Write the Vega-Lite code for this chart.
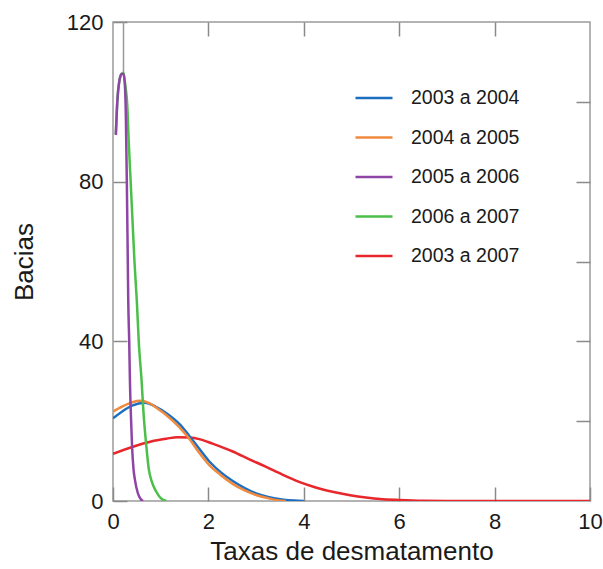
{
  "$schema": "https://vega.github.io/schema/vega-lite/v6.json",
  "width": 477,
  "height": 479,
  "autosize": {"type": "none"},
  "padding": {"left": 113, "top": 22, "right": 13, "bottom": 68},
  "background": "white",
  "config": {
    "font": "Liberation Sans",
    "view": {"stroke": "#9a9a9a", "strokeWidth": 1.5},
    "axis": {"grid": false, "domain": false, "tickColor": "#8a8a8a", "tickWidth": 1.5, "labelColor": "#1a1a1a", "titleColor": "#1a1a1a", "labelFont": "Liberation Sans", "titleFont": "Liberation Sans", "titleFontWeight": "normal"}
  },
  "datasets": {
    "curves": [
      {"periodo": "2003 a 2007", "taxa": 0, "bacias": 11.8},
      {"periodo": "2003 a 2007", "taxa": 0.42, "bacias": 13.6},
      {"periodo": "2003 a 2007", "taxa": 0.8, "bacias": 14.9},
      {"periodo": "2003 a 2007", "taxa": 1.12, "bacias": 15.6},
      {"periodo": "2003 a 2007", "taxa": 1.35, "bacias": 16.0},
      {"periodo": "2003 a 2007", "taxa": 1.6, "bacias": 15.9},
      {"periodo": "2003 a 2007", "taxa": 1.81, "bacias": 15.5},
      {"periodo": "2003 a 2007", "taxa": 2.1, "bacias": 14.3},
      {"periodo": "2003 a 2007", "taxa": 2.51, "bacias": 12.4},
      {"periodo": "2003 a 2007", "taxa": 2.85, "bacias": 10.5},
      {"periodo": "2003 a 2007", "taxa": 3.2, "bacias": 8.6},
      {"periodo": "2003 a 2007", "taxa": 3.55, "bacias": 6.6},
      {"periodo": "2003 a 2007", "taxa": 3.9, "bacias": 4.8},
      {"periodo": "2003 a 2007", "taxa": 4.25, "bacias": 3.4},
      {"periodo": "2003 a 2007", "taxa": 4.6, "bacias": 2.3},
      {"periodo": "2003 a 2007", "taxa": 5.0, "bacias": 1.4},
      {"periodo": "2003 a 2007", "taxa": 5.3, "bacias": 0.9},
      {"periodo": "2003 a 2007", "taxa": 5.6, "bacias": 0.5},
      {"periodo": "2003 a 2007", "taxa": 6.0, "bacias": 0.25},
      {"periodo": "2003 a 2007", "taxa": 6.5, "bacias": 0.05},
      {"periodo": "2003 a 2007", "taxa": 7.0, "bacias": 0},
      {"periodo": "2003 a 2007", "taxa": 8.0, "bacias": 0},
      {"periodo": "2003 a 2007", "taxa": 10.0, "bacias": 0},
      {"periodo": "2003 a 2004", "taxa": 0, "bacias": 20.7},
      {"periodo": "2003 a 2004", "taxa": 0.2, "bacias": 22.5},
      {"periodo": "2003 a 2004", "taxa": 0.4, "bacias": 23.9},
      {"periodo": "2003 a 2004", "taxa": 0.67, "bacias": 24.6},
      {"periodo": "2003 a 2004", "taxa": 0.9, "bacias": 23.6},
      {"periodo": "2003 a 2004", "taxa": 1.12, "bacias": 22.0},
      {"periodo": "2003 a 2004", "taxa": 1.4, "bacias": 19.2},
      {"periodo": "2003 a 2004", "taxa": 1.6, "bacias": 16.3},
      {"periodo": "2003 a 2004", "taxa": 1.8, "bacias": 13.2},
      {"periodo": "2003 a 2004", "taxa": 2.02, "bacias": 9.9},
      {"periodo": "2003 a 2004", "taxa": 2.25, "bacias": 7.3},
      {"periodo": "2003 a 2004", "taxa": 2.51, "bacias": 5.0},
      {"periodo": "2003 a 2004", "taxa": 2.75, "bacias": 3.3},
      {"periodo": "2003 a 2004", "taxa": 3.0, "bacias": 1.9},
      {"periodo": "2003 a 2004", "taxa": 3.25, "bacias": 1.0},
      {"periodo": "2003 a 2004", "taxa": 3.54, "bacias": 0.4},
      {"periodo": "2003 a 2004", "taxa": 3.8, "bacias": 0.1},
      {"periodo": "2003 a 2004", "taxa": 4.0, "bacias": 0},
      {"periodo": "2004 a 2005", "taxa": 0, "bacias": 22.4},
      {"periodo": "2004 a 2005", "taxa": 0.2, "bacias": 23.7},
      {"periodo": "2004 a 2005", "taxa": 0.4, "bacias": 24.7},
      {"periodo": "2004 a 2005", "taxa": 0.56, "bacias": 25.1},
      {"periodo": "2004 a 2005", "taxa": 0.75, "bacias": 24.6},
      {"periodo": "2004 a 2005", "taxa": 0.95, "bacias": 23.0},
      {"periodo": "2004 a 2005", "taxa": 1.12, "bacias": 21.5},
      {"periodo": "2004 a 2005", "taxa": 1.4, "bacias": 18.4},
      {"periodo": "2004 a 2005", "taxa": 1.6, "bacias": 15.6},
      {"periodo": "2004 a 2005", "taxa": 1.8, "bacias": 12.2},
      {"periodo": "2004 a 2005", "taxa": 2.02, "bacias": 9.0},
      {"periodo": "2004 a 2005", "taxa": 2.25, "bacias": 6.6},
      {"periodo": "2004 a 2005", "taxa": 2.51, "bacias": 4.3},
      {"periodo": "2004 a 2005", "taxa": 2.75, "bacias": 2.7},
      {"periodo": "2004 a 2005", "taxa": 3.0, "bacias": 1.5},
      {"periodo": "2004 a 2005", "taxa": 3.25, "bacias": 0.7},
      {"periodo": "2004 a 2005", "taxa": 3.45, "bacias": 0.2},
      {"periodo": "2004 a 2005", "taxa": 3.62, "bacias": 0},
      {"periodo": "2006 a 2007", "taxa": 0.06, "bacias": 92},
      {"periodo": "2006 a 2007", "taxa": 0.09, "bacias": 100},
      {"periodo": "2006 a 2007", "taxa": 0.13, "bacias": 105},
      {"periodo": "2006 a 2007", "taxa": 0.18, "bacias": 107},
      {"periodo": "2006 a 2007", "taxa": 0.22, "bacias": 107.3},
      {"periodo": "2006 a 2007", "taxa": 0.26, "bacias": 104},
      {"periodo": "2006 a 2007", "taxa": 0.3, "bacias": 99},
      {"periodo": "2006 a 2007", "taxa": 0.33, "bacias": 90},
      {"periodo": "2006 a 2007", "taxa": 0.37, "bacias": 80},
      {"periodo": "2006 a 2007", "taxa": 0.41, "bacias": 70},
      {"periodo": "2006 a 2007", "taxa": 0.45, "bacias": 60},
      {"periodo": "2006 a 2007", "taxa": 0.5, "bacias": 50},
      {"periodo": "2006 a 2007", "taxa": 0.54, "bacias": 40},
      {"periodo": "2006 a 2007", "taxa": 0.6, "bacias": 30},
      {"periodo": "2006 a 2007", "taxa": 0.64, "bacias": 22},
      {"periodo": "2006 a 2007", "taxa": 0.7, "bacias": 13.6},
      {"periodo": "2006 a 2007", "taxa": 0.75, "bacias": 8},
      {"periodo": "2006 a 2007", "taxa": 0.81, "bacias": 5},
      {"periodo": "2006 a 2007", "taxa": 0.9, "bacias": 2.5},
      {"periodo": "2006 a 2007", "taxa": 0.98, "bacias": 1},
      {"periodo": "2006 a 2007", "taxa": 1.05, "bacias": 0.3},
      {"periodo": "2006 a 2007", "taxa": 1.12, "bacias": 0},
      {"periodo": "2005 a 2006", "taxa": 0.06, "bacias": 91.7},
      {"periodo": "2005 a 2006", "taxa": 0.09, "bacias": 100},
      {"periodo": "2005 a 2006", "taxa": 0.13, "bacias": 105},
      {"periodo": "2005 a 2006", "taxa": 0.18, "bacias": 107},
      {"periodo": "2005 a 2006", "taxa": 0.22, "bacias": 107},
      {"periodo": "2005 a 2006", "taxa": 0.25, "bacias": 104},
      {"periodo": "2005 a 2006", "taxa": 0.27, "bacias": 96},
      {"periodo": "2005 a 2006", "taxa": 0.28, "bacias": 88},
      {"periodo": "2005 a 2006", "taxa": 0.29, "bacias": 80},
      {"periodo": "2005 a 2006", "taxa": 0.31, "bacias": 60},
      {"periodo": "2005 a 2006", "taxa": 0.32, "bacias": 50},
      {"periodo": "2005 a 2006", "taxa": 0.34, "bacias": 40},
      {"periodo": "2005 a 2006", "taxa": 0.355, "bacias": 30},
      {"periodo": "2005 a 2006", "taxa": 0.38, "bacias": 20},
      {"periodo": "2005 a 2006", "taxa": 0.4, "bacias": 13.6},
      {"periodo": "2005 a 2006", "taxa": 0.43, "bacias": 8},
      {"periodo": "2005 a 2006", "taxa": 0.46, "bacias": 5.3},
      {"periodo": "2005 a 2006", "taxa": 0.52, "bacias": 2},
      {"periodo": "2005 a 2006", "taxa": 0.58, "bacias": 0.5},
      {"periodo": "2005 a 2006", "taxa": 0.63, "bacias": 0}
    ],
    "guide": [
      {"taxa": 0.22, "bacias": 107.3, "topo": 120}
    ]
  },
  "resolve": {"axis": {"x": "independent", "y": "independent"}},
  "layer": [
    {
      "data": {"name": "guide"},
      "mark": {"type": "rule", "color": "#9a9a9a", "strokeWidth": 1.5},
      "encoding": {
        "x": {"field": "taxa", "type": "quantitative", "scale": {"domain": [0, 10], "nice": false},
          "axis": {"orient": "top", "values": [2, 4, 6, 8], "labels": false, "title": null, "tickSize": -14}},
        "y": {"field": "bacias", "type": "quantitative", "scale": {"domain": [0, 120], "nice": false},
          "axis": {"orient": "right", "values": [20, 40, 60, 80, 100], "labels": false, "title": null, "tickSize": -14}},
        "y2": {"field": "topo"}
      }
    },
    {
      "data": {"name": "curves"},
      "mark": {"type": "line", "strokeWidth": 2.5, "interpolate": "monotone", "clip": true},
      "encoding": {
        "x": {"field": "taxa", "type": "quantitative", "scale": {"domain": [0, 10], "nice": false},
          "axis": {"orient": "bottom", "values": [0, 2, 4, 6, 8, 10], "title": "Taxas de desmatamento", "tickSize": -14, "labelFontSize": 22, "labelPadding": 24, "titleFontSize": 26, "titlePadding": 6, "labelFlush": false}},
        "y": {"field": "bacias", "type": "quantitative", "scale": {"domain": [0, 120], "nice": false},
          "axis": {"orient": "left", "values": [0, 40, 80, 120], "title": "Bacias", "tickSize": -14, "labelFontSize": 22, "labelPadding": 24, "titleFontSize": 26, "titlePadding": 29, "labelFlush": false}},
        "color": {
          "field": "periodo", "type": "nominal",
          "scale": {"domain": ["2003 a 2004", "2004 a 2005", "2005 a 2006", "2006 a 2007", "2003 a 2007"],
                    "range": ["#1c6fc0", "#f08a3e", "#8f45a6", "#4cbf4a", "#e8262b"]},
          "legend": {"title": null, "orient": "none", "legendX": 241, "legendY": 56, "symbolType": "stroke", "symbolSize": 1369, "symbolStrokeWidth": 2.5, "labelFontSize": 19.5, "labelColor": "#1a1a1a", "labelOffset": 17, "rowPadding": 9.5, "padding": 0}
        },
        "order": {"field": "taxa", "type": "quantitative"}
      }
    }
  ]
}
